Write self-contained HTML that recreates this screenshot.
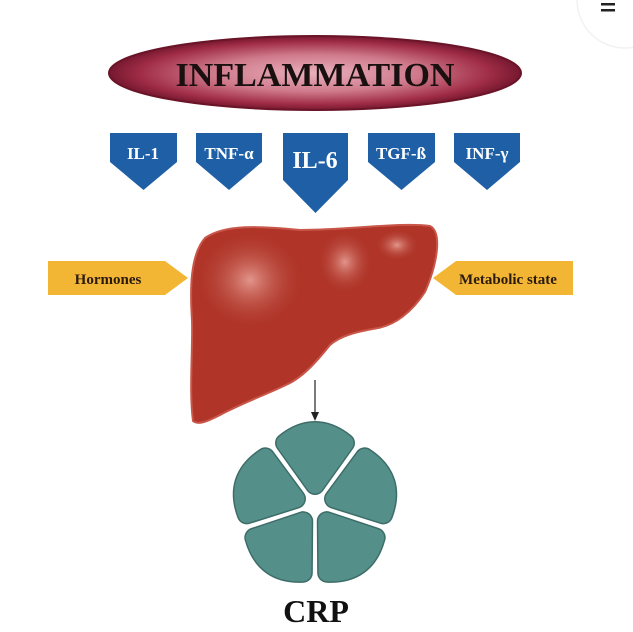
<!DOCTYPE html>
<html><head><meta charset="utf-8"><style>
html,body{margin:0;padding:0;background:#fff;}
svg{display:block;}
text{font-family:"Liberation Serif",serif;font-weight:bold;}
</style></head><body>
<svg width="633" height="632" viewBox="0 0 633 632" xmlns="http://www.w3.org/2000/svg">
<defs>
<radialGradient id="eg" cx="50%" cy="50%" r="50%">
<stop offset="0" stop-color="#eab0bc"/><stop offset="0.5" stop-color="#cf7a8c"/><stop offset="0.85" stop-color="#a02c46"/><stop offset="1" stop-color="#761830"/>
</radialGradient>
<radialGradient id="h1" cx="0.5" cy="0.5" r="0.5"><stop offset="0" stop-color="#e8a096" stop-opacity="0.9"/><stop offset="1" stop-color="#b03a2e" stop-opacity="0"/></radialGradient>
<path id="p" d="M0,-20 L-30,-62 Q0,-86 30,-62 Z"/>
</defs>
<circle cx="625" cy="0" r="48" fill="none" stroke="#f2f2f2" stroke-width="1.5"/>
<rect x="601" y="3" width="14" height="2.5" fill="#222"/>
<rect x="601" y="9" width="14" height="2.5" fill="#222"/>
<ellipse cx="315" cy="73" rx="206" ry="37" fill="url(#eg)" stroke="#6a1428" stroke-width="2"/>
<text x="315" y="86" font-size="34" text-anchor="middle" fill="#1a1010">INFLAMMATION</text>
<g fill="#1f5fa6">
<path d="M110,133 H177 V162 L143.5,190 L110,162 Z"/>
<path d="M196,133 H262 V162 L229,190 L196,162 Z"/>
<path d="M283,133 H348 V180 L315.5,213 L283,180 Z"/>
<path d="M368,133 H435 V162 L401.5,190 L368,162 Z"/>
<path d="M454,133 H520 V162 L487,190 L454,162 Z"/>
</g>
<g fill="#fff" text-anchor="middle">
<text x="143" y="159" font-size="17">IL-1</text>
<text x="229" y="159" font-size="17">TNF-α</text>
<text x="315" y="168" font-size="24">IL-6</text>
<text x="401" y="159" font-size="17">TGF-ß</text>
<text x="487" y="159" font-size="17">INF-γ</text>
</g>
<path d="M48,261 H165 L188,278 L165,295 H48 Z" fill="#f2b634"/>
<text x="108" y="284" font-size="15" text-anchor="middle" fill="#2a1a10">Hormones</text>
<path d="M573,261 H456 L433,278 L456,295 H573 Z" fill="#f2b634"/>
<text x="508" y="284" font-size="15" text-anchor="middle" fill="#2a1a10">Metabolic state</text>
<path d="M205,238 C225,224 260,226 300,230 C350,230 400,222 430,226 C442,232 438,262 425,292 C412,312 395,325 378,328 C355,332 340,336 330,345 C318,360 305,375 290,383 C270,393 250,400 230,410 C215,417 200,427 193,421 C189,390 193,350 192,320 C190,290 190,255 205,238 Z" fill="#b03428" stroke="#c8574a" stroke-width="2"/>
<ellipse cx="250" cy="280" rx="55" ry="50" fill="url(#h1)"/>
<ellipse cx="345" cy="262" rx="28" ry="32" fill="url(#h1)"/>
<ellipse cx="397" cy="245" rx="22" ry="16" fill="url(#h1)"/>
<line x1="315" y1="380" x2="315" y2="414" stroke="#222" stroke-width="1.2"/>
<path d="M311,412 L315,421 L319,412 Z" fill="#222"/>
<g transform="translate(315,505)" stroke-linejoin="round">
<g fill="#3d6d69" stroke="#3d6d69" stroke-width="20">
<use href="#p"/><use href="#p" transform="rotate(72)"/><use href="#p" transform="rotate(144)"/><use href="#p" transform="rotate(216)"/><use href="#p" transform="rotate(288)"/>
</g>
<g fill="#558f8a" stroke="#558f8a" stroke-width="17">
<use href="#p"/><use href="#p" transform="rotate(72)"/><use href="#p" transform="rotate(144)"/><use href="#p" transform="rotate(216)"/><use href="#p" transform="rotate(288)"/>
</g>
</g>
<text x="316" y="622" font-size="32" text-anchor="middle" fill="#111">CRP</text>
</svg>
</body></html>
